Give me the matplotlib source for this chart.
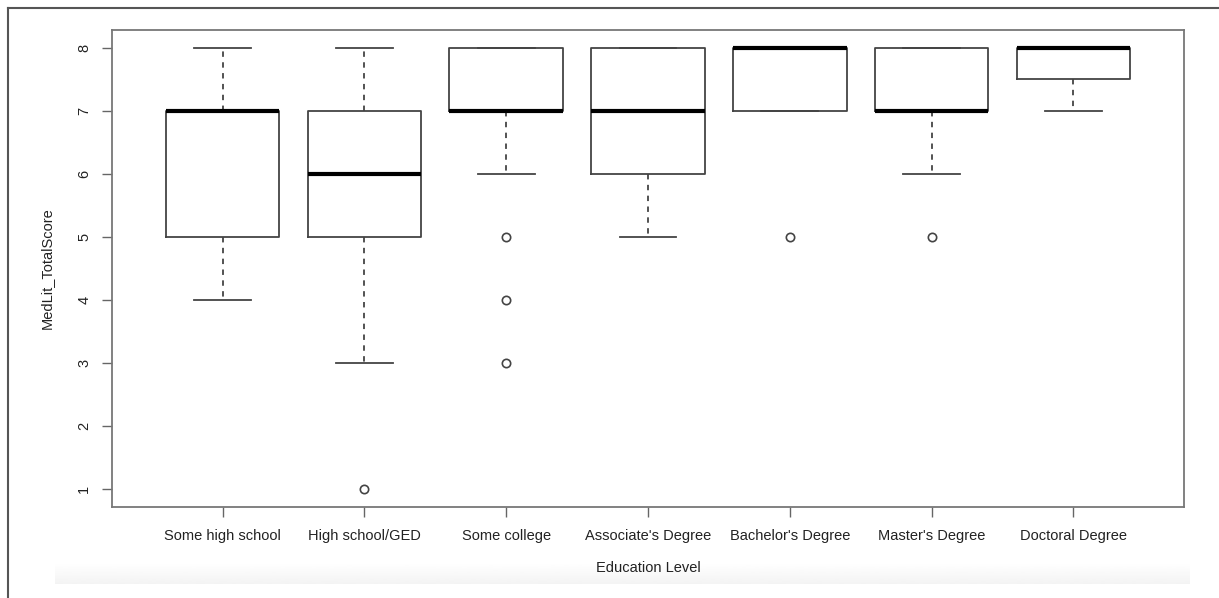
import numpy as np
import matplotlib.pyplot as plt

# Education levels and the five-number summaries
levels = ["Some high school", "High school/GED", "Some college",
          "Associate's Degree", "Bachelor's Degree", "Master's Degree",
          "Doctoral Degree"]
whisker_lo = [4, 3, 6, 5, 7, 6, 7]
q1 = [5, 5, 7, 6, 7, 7, 7.5]
median = [7, 6, 7, 7, 8, 7, 8]
q3 = [7, 7, 8, 8, 8, 8, 8]
whisker_hi = [8, 8, 8, 8, 8, 8, 8]
outliers = [[], [1], [5, 4, 3], [], [5], [5], []]

plt.rcParams['font.family'] = ['Liberation Sans', 'DejaVu Sans']

stats = []
for i, name in enumerate(levels):
    stats.append(dict(label=name, whislo=whisker_lo[i], q1=q1[i], med=median[i],
                      q3=q3[i], whishi=whisker_hi[i], fliers=outliers[i]))

fig = plt.figure(figsize=(12.19, 5.98), dpi=100)

# faint grey band under the x labels (as in the screenshot)
bg = fig.add_axes([55 / 1219, (598 - 584) / 598, 1135 / 1219, 44 / 598], zorder=-5)
grad = np.concatenate([np.ones(25), np.linspace(1.0, 0.955, 25)]).reshape(-1, 1)
bg.imshow(grad, cmap='gray', vmin=0, vmax=1, aspect='auto', extent=[0, 1, 0, 1],
          origin='upper')
bg.axis('off')

ax = fig.add_axes([112 / 1219, (598 - 507) / 598, (1184 - 112) / 1219, (507 - 30) / 598])
ax.patch.set_alpha(0)

box_col = '#444444'
ax.bxp(stats, positions=np.arange(1, 8), widths=0.8, patch_artist=False,
       showfliers=True,
       boxprops=dict(color=box_col, linewidth=1.3),
       medianprops=dict(color='black', linewidth=3, solid_capstyle='butt'),
       whiskerprops=dict(color=box_col, linewidth=1.3, linestyle=(0, (3, 3))),
       capprops=dict(color=box_col, linewidth=1.3),
       capwidths=0.4,
       flierprops=dict(marker='o', markersize=6, markerfacecolor='none',
                       markeredgecolor=box_col, markeredgewidth=1.2))

ax.set_xlim(0.22, 7.78)
ax.set_ylim(0.72, 8.28)
ax.set_yticks(range(1, 9))
ax.set_yticklabels([str(v) for v in range(1, 9)], rotation=90, va='center',
                   fontsize=10.5, color='#222222')
ax.set_xticks(range(1, 8))
ax.set_xticklabels(levels, fontsize=10.5, color='#222222')
ax.tick_params(axis='both', direction='out', length=7, width=1, color='#666666')
ax.tick_params(axis='x', pad=9)
ax.tick_params(axis='y', pad=8)
for s in ax.spines.values():
    s.set_color('#777777')
    s.set_linewidth(1.3)

ax.set_ylabel('MedLit_TotalScore', fontsize=10.5, color='#222222', labelpad=17)
ax.set_xlabel('Education Level', fontsize=10.5, color='#222222', labelpad=13)

# outer frame of the screenshot: left and top edges only
fig.add_artist(plt.Line2D([7.5 / 1219, 7.5 / 1219], [0, 1 - 7.5 / 598],
                          color='#555555', linewidth=1.5))
fig.add_artist(plt.Line2D([7.5 / 1219, 1], [1 - 7.5 / 598, 1 - 7.5 / 598],
                          color='#555555', linewidth=1.5))

fig.savefig('out.png', dpi=100)
